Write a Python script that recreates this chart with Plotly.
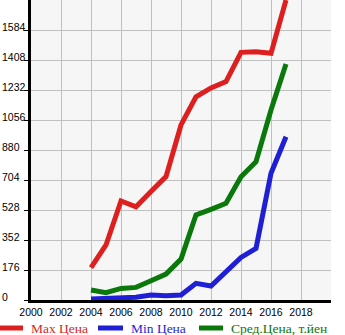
import plotly.graph_objects as go

years = list(range(2004, 2018))
max_price = [190, 323, 581, 547, 636, 724, 1027, 1192, 1244, 1281, 1453, 1457, 1447, 1760]
min_price = [6, 10, 13, 16, 29, 25, 29, 98, 82, 166, 250, 303, 743, 958]
avg_price = [59, 43, 68, 74, 113, 152, 240, 499, 532, 567, 723, 811, 1115, 1385]

series_names = ["Max Цена", "Min Цена", "Сред.Цена, т.йен"]
series_colors = ["#dd1f1f", "#1f1fd6", "#0a780a"]

y_ticks = [0, 176, 352, 528, 704, 880, 1056, 1232, 1408, 1584]
x_ticks = list(range(2000, 2019, 2))

W, H = 345, 335
ML, MR, MT, MB = 31, 14, 0, 35
PW, PH = W - ML - MR, H - MT - MB

fig = go.Figure()
for name, vals, col in zip(series_names, [max_price, min_price, avg_price], series_colors):
    fig.add_trace(go.Scatter(
        x=years, y=vals, mode="lines", name=name,
        line=dict(color=col, width=5), showlegend=False,
    ))

# y tick labels, left-aligned at the page edge
for v in y_ticks:
    fig.add_annotation(
        x=-ML / PW, xref="paper", y=v, yref="y", text=str(v),
        showarrow=False, xanchor="left", yanchor="middle", yshift=3,
        font=dict(family="Liberation Sans, Arial, sans-serif", size=10.5, color="#000"),
    )

# legend row below the axis
legend_y = -28 / PH
legend_items = [(0, 23, 29), (98, 123, 129), (199, 223, 229)]
for (x0, x1, xt), name, col in zip(legend_items, series_names, series_colors):
    fig.add_shape(
        type="line", xref="paper", yref="paper",
        x0=(x0 - ML) / PW, x1=(x1 - ML) / PW, y0=legend_y, y1=legend_y,
        line=dict(color=col, width=5),
    )
    fig.add_annotation(
        x=(xt - ML) / PW, xref="paper", y=legend_y, yref="paper", text=name,
        showarrow=False, xanchor="left", yanchor="middle",
        font=dict(family="Liberation Serif, Times New Roman, serif", size=13.5, color=col),
    )

fig.update_layout(
    width=W, height=H,
    margin=dict(l=ML, r=MR, t=MT, b=MB, pad=0),
    paper_bgcolor="white", plot_bgcolor="#f6f6f6",
    showlegend=False,
)
fig.update_xaxes(
    range=[2000, 2020], tickvals=x_ticks, ticktext=[str(t) for t in x_ticks],
    showgrid=True, gridcolor="#c0c0c0", gridwidth=1,
    showline=True, linecolor="#000", linewidth=3,
    ticks="", zeroline=False,
    tickfont=dict(family="Liberation Sans, Arial, sans-serif", size=10.5, color="#000"),
)
fig.update_yaxes(
    range=[0, 1760], tickvals=y_ticks, showticklabels=False,
    showgrid=True, gridcolor="#c0c0c0", gridwidth=1,
    showline=True, linecolor="#000", linewidth=3,
    ticks="outside", ticklen=4, tickcolor="#000", tickwidth=1, zeroline=False,
)

fig.write_html("out.html")
